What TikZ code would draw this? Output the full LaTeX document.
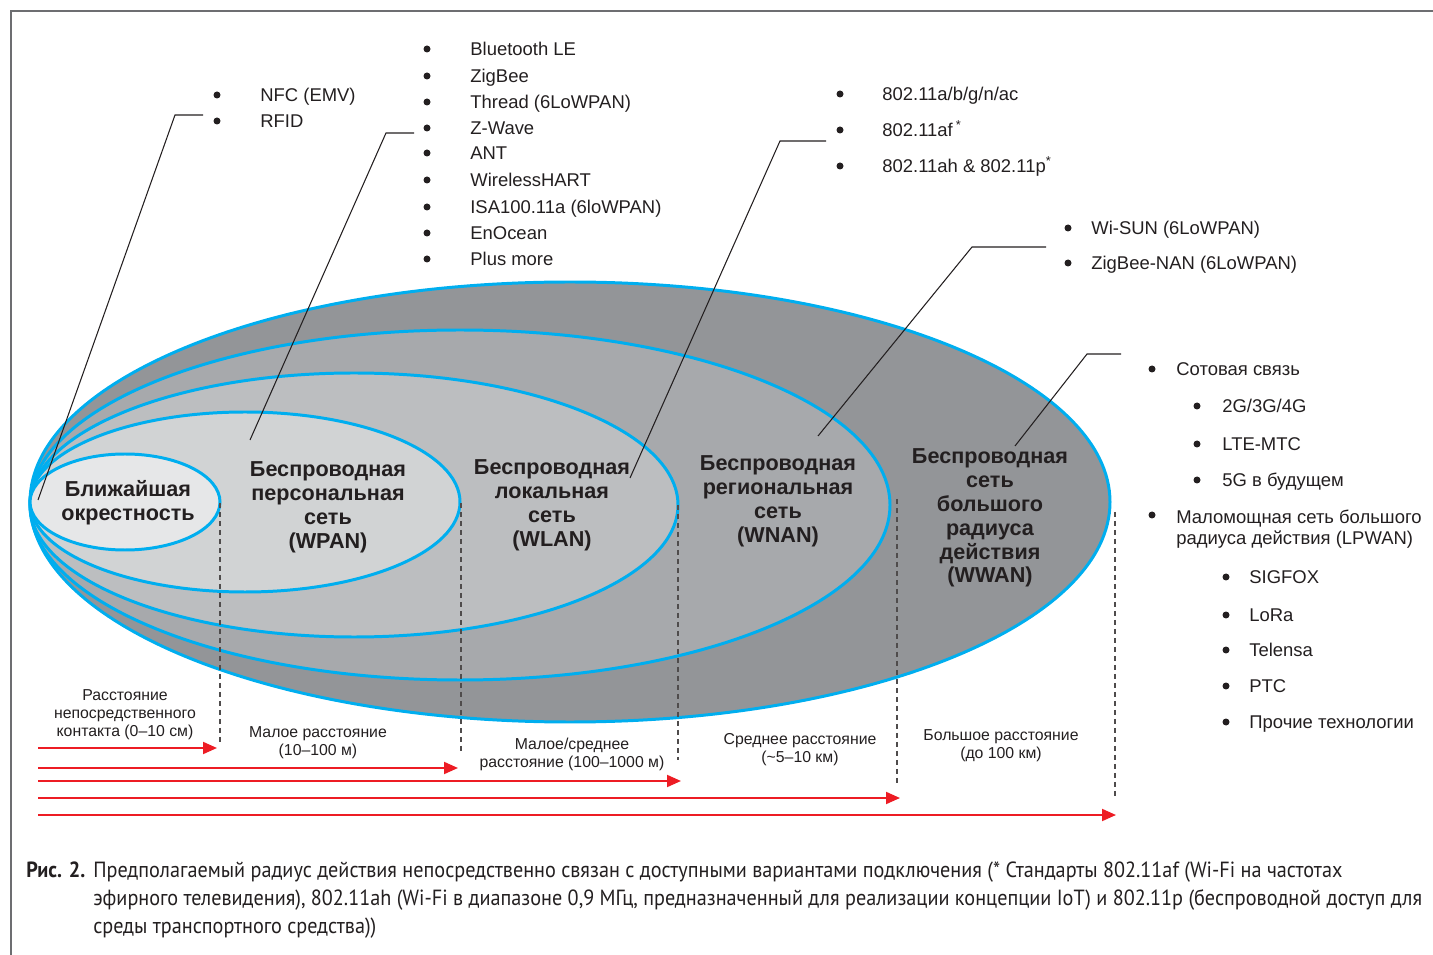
\documentclass[tikz,border=0pt]{standalone}
\usepackage{fontspec}
\setmainfont{Liberation Sans}
\newfontfamily\capfont[FakeStretch=0.92]{PT Sans}
\usepackage{xcolor}
\usetikzlibrary{arrows.meta}

\definecolor{ink}{HTML}{231F20}
\definecolor{rim}{HTML}{00AEEF}
\definecolor{framegray}{HTML}{6D6E71}
\definecolor{rangered}{HTML}{ED1C24}
\definecolor{zone1}{HTML}{E6E7E8}
\definecolor{zone2}{HTML}{D1D3D4}
\definecolor{zone3}{HTML}{BCBEC0}
\definecolor{zone4}{HTML}{A7A9AC}
\definecolor{zone5}{HTML}{939598}

\begin{document}
\begin{tikzpicture}[
    x=0.02cm, y=-0.02cm,
    zone/.style={draw=rim, line width=1.7pt},
    zonelabel/.style={align=center, text=ink, inner sep=0, font=\bfseries\fontsize{12.3}{13.6}\selectfont},
    dot/.style={circle, fill=ink, inner sep=0, minimum size=0.14cm},
    item/.style={anchor=base west, text=ink, inner sep=0, font=\fontsize{10.5}{11.9}\selectfont},
    rangelabel/.style={align=center, text=ink, inner sep=0, font=\fontsize{9}{10.2}\selectfont},
    leader/.style={ink, line width=0.6pt},
    limitline/.style={ink!80, line width=0.7pt, dash pattern=on 0.1cm off 0.08cm},
    spanarrow/.style={rangered, line width=1.1pt, -{Triangle[length=0.28cm, width=0.24cm]}}
]
    \useasboundingbox (0,0) rectangle (1433,955);

    % outer frame (left and top only)
    \draw[framegray, line width=1.4pt] (11,955) -- (11,11) -- (1433,11);

    % nested coverage zones, largest first
    \draw[zone, fill=zone5] (570,502) ellipse [x radius=540, y radius=220];
    \draw[zone, fill=zone4] (460,505) ellipse [x radius=430, y radius=175];
    \draw[zone, fill=zone3] (354,505) ellipse [x radius=324, y radius=132];
    \draw[zone, fill=zone2] (245,502) ellipse [x radius=215, y radius=90];
    \draw[zone, fill=zone1] (125,502) ellipse [x radius=95, y radius=48];

    % zone names
    \node[zonelabel] (near) at (128,503) {Ближайшая\\окрестность};
    \node[zonelabel] (wpan) at (328,507) {Беспроводная\\персональная\\сеть\\(WPAN)};
    \node[zonelabel] (wlan) at (552,505) {Беспроводная\\локальная\\сеть\\(WLAN)};
    \node[zonelabel] (wnan) at (778,501) {Беспроводная\\региональная\\сеть\\(WNAN)};
    \node[zonelabel] (wwan) at (990,518) {Беспроводная\\сеть\\большого\\радиуса\\действия\\(WWAN)};

    % technology lists
    \foreach \y/\t [count=\i] in {95/NFC (EMV), 121/RFID} {
        \node[dot] (nfc-b\i) at (217,\y) {};
        \node[item] (nfc-t\i) at (260,\y+6.5) {\t};
    }
    \foreach \y/\t [count=\i] in {49/Bluetooth LE, 76/ZigBee, 102/Thread (6LoWPAN), 128/Z-Wave, 153/ANT,
                                  180/WirelessHART, 207/ISA100.11a (6loWPAN), 233/EnOcean, 259/Plus more} {
        \node[dot] (pan-b\i) at (427,\y) {};
        \node[item] (pan-t\i) at (470,\y+6.5) {\t};
    }
    \foreach \y/\t [count=\i] in {94/{802.11a/b/g/n/ac}, 130/{802.11af\,\textsuperscript{*}},
                                  166/{802.11ah \& 802.11p\textsuperscript{*}}} {
        \node[dot] (lan-b\i) at (840,\y) {};
        \node[item] (lan-t\i) at (882,\y+6.5) {\t};
    }
    \foreach \y/\t [count=\i] in {228/Wi-SUN (6LoWPAN), 263/ZigBee-NAN (6LoWPAN)} {
        \node[dot] (nan-b\i) at (1068,\y) {};
        \node[item] (nan-t\i) at (1091,\y+6.5) {\t};
    }

    % WWAN list with sub-items
    \node[dot] (cell-b) at (1152,369) {};
    \node[item] (cell-t) at (1176,375.5) {Сотовая связь};
    \foreach \y/\t [count=\i] in {406/{2G/3G/4G}, 444/LTE-MTC, 480/5G в будущем} {
        \node[dot] (cell-b\i) at (1197,\y) {};
        \node[item] (cell-t\i) at (1222,\y+6.5) {\t};
    }
    \node[dot] (lp-b) at (1152,515) {};
    \node[item, align=left] (lp-t) at (1176,544.5) {Маломощная сеть большого\\радиуса действия (LPWAN)};
    \foreach \y/\t [count=\i] in {577/SIGFOX, 615/LoRa, 650/Telensa, 686/PTC, 722/Прочие технологии} {
        \node[dot] (lp-b\i) at (1226,\y) {};
        \node[item] (lp-t\i) at (1249,\y+6.5) {\t};
    }

    % leader lines from zones to their lists
    \coordinate (nfc-in) at (38,500);    \coordinate (nfc-k) at (175,115);  \coordinate (nfc-out) at (203,115);
    \coordinate (pan-in) at (250,440);   \coordinate (pan-k) at (386,133);  \coordinate (pan-out) at (414,133);
    \coordinate (lan-in) at (630,478);   \coordinate (lan-k) at (780,141);  \coordinate (lan-out) at (826,141);
    \coordinate (nan-in) at (818,436);   \coordinate (nan-k) at (972,247);  \coordinate (nan-out) at (1046,247);
    \coordinate (wan-in) at (1015,446);  \coordinate (wan-k) at (1087,354); \coordinate (wan-out) at (1121,354);
    \foreach \n in {nfc, pan, lan, nan, wan}
        \draw[leader] (\n-in) -- (\n-k) -- (\n-out);

    % range limits
    \foreach \x/\ya/\yb [count=\i] in {220/503/742, 461/503/752, 678/505/760, 897/499/783, 1115/512/797} {
        \coordinate (lim-a\i) at (\x,\ya);
        \coordinate (lim-b\i) at (\x,\yb);
        \draw[limitline] (lim-a\i) -- (lim-b\i);
    }

    % range arrows
    \foreach \x/\y [count=\i] in {217/748, 458/768, 681/781, 900/798, 1116/815} {
        \coordinate (rs\i) at (38,\y);
        \coordinate (re\i) at (\x,\y);
        \draw[spanarrow] (rs\i) -- (re\i);
    }

    % range names
    \node[rangelabel] (d1) at (125,715) {Расстояние\\непосредственного\\контакта (0--10 см)};
    \node[rangelabel] (d2) at (318,743) {Малое расстояние\\(10--100 м)};
    \node[rangelabel] (d3) at (572,754) {Малое/среднее\\расстояние (100--1000 м)};
    \node[rangelabel] (d4) at (800,750) {Среднее расстояние\\(\textasciitilde5--10 км)};
    \node[rangelabel] (d5) at (1001,746) {Большое расстояние\\(до 100 км)};

    % caption (base anchor sits on the last line)
    \node[anchor=base west, inner sep=0, text=ink, font=\capfont\bfseries\fontsize{12.5}{15.9}\selectfont]
        (fig) at (26,877) {Рис. 2.};
    \node[anchor=base west, align=left, inner sep=0, text=ink, font=\capfont\fontsize{12.5}{15.9}\selectfont]
        (cap) at (93,933) {Предполагаемый радиус действия непосредственно связан с доступными вариантами подключения (* Стандарты 802.11af (Wi-Fi на частотах\\
        эфирного телевидения), 802.11ah (Wi-Fi в диапазоне 0,9 МГц, предназначенный для реализации концепции IoT) и 802.11p (беспроводной доступ для\\
        среды транспортного средства))};
\end{tikzpicture}
\end{document}
